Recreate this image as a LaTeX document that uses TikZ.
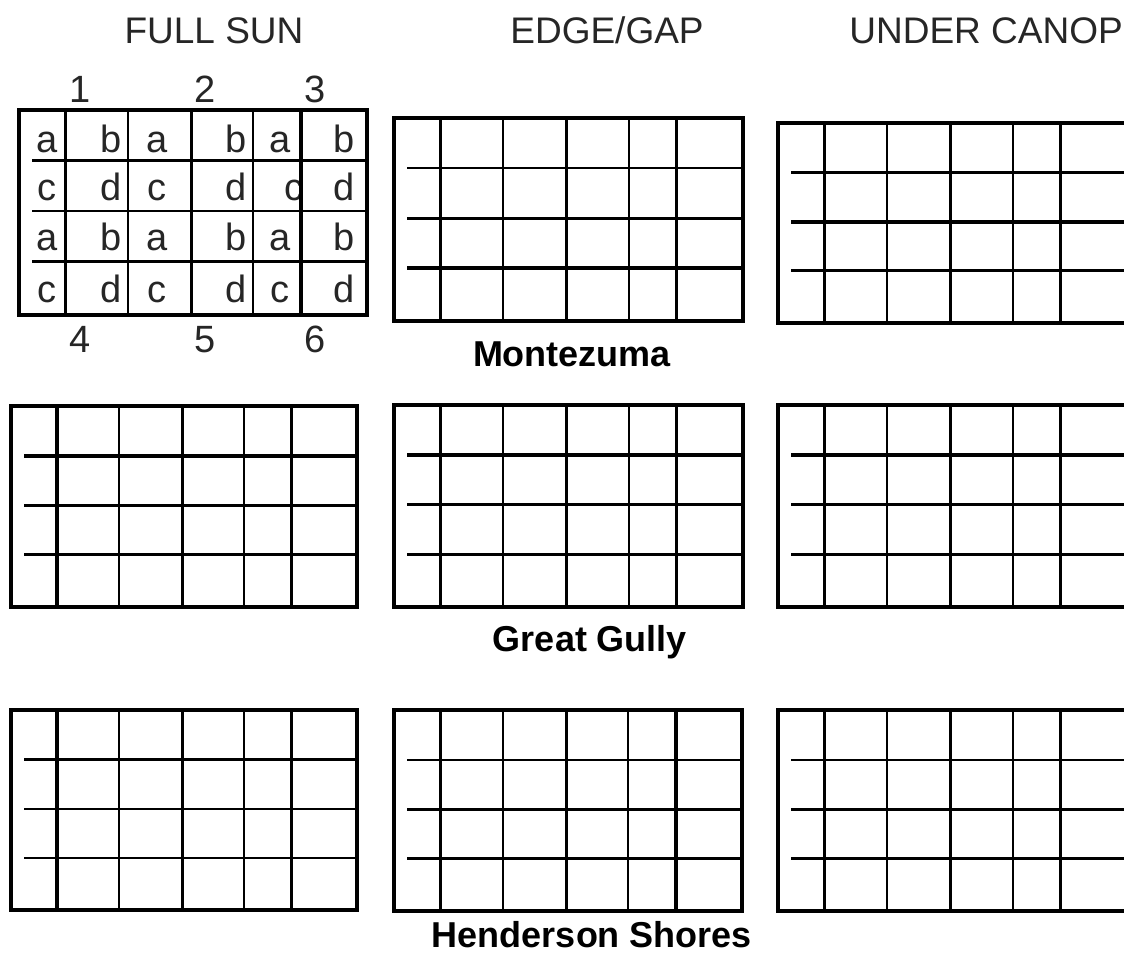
\documentclass[tikz,border=0pt]{standalone}
\usepackage{fontspec}
\setmainfont{Liberation Sans}
\newcommand\plotgrid[7]{%
  \begin{scope}[shift={(#1,#2)}]
    \draw[hline,line width=#5pt] (13,{0.248*#4}) -- (#3,{0.248*#4});
    \draw[hline,line width=#6pt] (13,{0.494*#4}) -- (#3,{0.494*#4});
    \draw[hline,line width=#7pt] (13,{0.739*#4}) -- (#3,{0.739*#4});
    \draw[vthick] ({0.133*#3},0) -- ({0.133*#3},#4);
    \draw[vthin]  ({0.313*#3},0) -- ({0.313*#3},#4);
    \draw[vthick] ({0.495*#3},0) -- ({0.495*#3},#4);
    \draw[vthin]  ({0.673*#3},0) -- ({0.673*#3},#4);
    \draw[vthick] ({0.81*#3},0) -- ({0.81*#3},#4);
    \draw[outer] (0,0) rectangle (#3,#4);
  \end{scope}}
\begin{document}
\begin{tikzpicture}[x=1pt,y=-1pt,
  hline/.style={black},
  vthick/.style={black,line width=3.4pt},
  vthin/.style={black,line width=2.3pt},
  outer/.style={black,line width=4pt},
  heading/.style={anchor=base,inner sep=0pt,font=\fontsize{37}{40}\selectfont,text=black!85},
  sitelabel/.style={anchor=base,inner sep=0pt,font=\fontsize{36}{40}\selectfont\bfseries},
  numlabel/.style={anchor=base,inner sep=0pt,font=\fontsize{38}{40}\selectfont,text=black!85},
  letter/.style={anchor=base,inner sep=0pt,font=\fontsize{38}{40}\selectfont,text=black!85}]
\useasboundingbox (0,0) rectangle (1124,956);
\clip (0,0) rectangle (1124,956);
% headings
\node[heading] (h1) at (214,43) {FULL SUN};
\node[heading] (h2) at (607,43) {EDGE/GAP};
\node[heading,anchor=base east] (h3) at (1123,43) {UNDER CANOP};
% site labels
\node[sitelabel] (s1) at (572,366) {Montezuma};
\node[sitelabel] (s2) at (590,651) {Great Gully};
\node[sitelabel] (s3) at (592,947) {Henderson Shores};
% plot numbers
\node[numlabel] (n1) at (80,102) {1};
\node[numlabel] (n2) at (205,102) {2};
\node[numlabel] (n3) at (315,102) {3};
\node[numlabel] (n4) at (80,352) {4};
\node[numlabel] (n5) at (205,352) {5};
\node[numlabel] (n6) at (315,352) {6};
% letters in first grid
\foreach \r/\yy/\p/\q in {1/152/a/b,2/200/c/d,3/250/a/b,4/302/c/d}{
  \node[letter] (l\r a) at (47,\yy) {\p};
  \node[letter] (l\r b) at (111,\yy) {\q};
  \node[letter] (l\r c) at (157,\yy) {\p};
  \node[letter] (l\r d) at (236,\yy) {\q};
  \node[letter] (l\r f) at (344,\yy) {\q};
}
\node[letter] (l1e) at (280,152) {a};
\node[letter] (l2e) at (294,200) {c};
\node[letter] (l3e) at (280,250) {a};
\node[letter] (l4e) at (280,302) {c};
% grids
\plotgrid{19}{110}{348}{205}{3.0}{2.3}{2.3}
\plotgrid{394}{118}{349}{203}{2.3}{2.5}{3.3}
\plotgrid{778}{123}{349}{200}{2.3}{3.5}{3.2}
\plotgrid{11}{406}{346}{201}{3.3}{3.3}{3.3}
\plotgrid{394}{405}{349}{202}{3.3}{3.3}{3.3}
\plotgrid{778}{405}{349}{202}{3.3}{3.0}{3.0}
\plotgrid{11}{710}{346}{200}{2.5}{2.5}{2.5}
\plotgrid{394}{710}{348}{201}{2.5}{2.5}{2.5}
\plotgrid{778}{710}{349}{201}{2.5}{2.5}{2.5}
\end{tikzpicture}
\end{document}
